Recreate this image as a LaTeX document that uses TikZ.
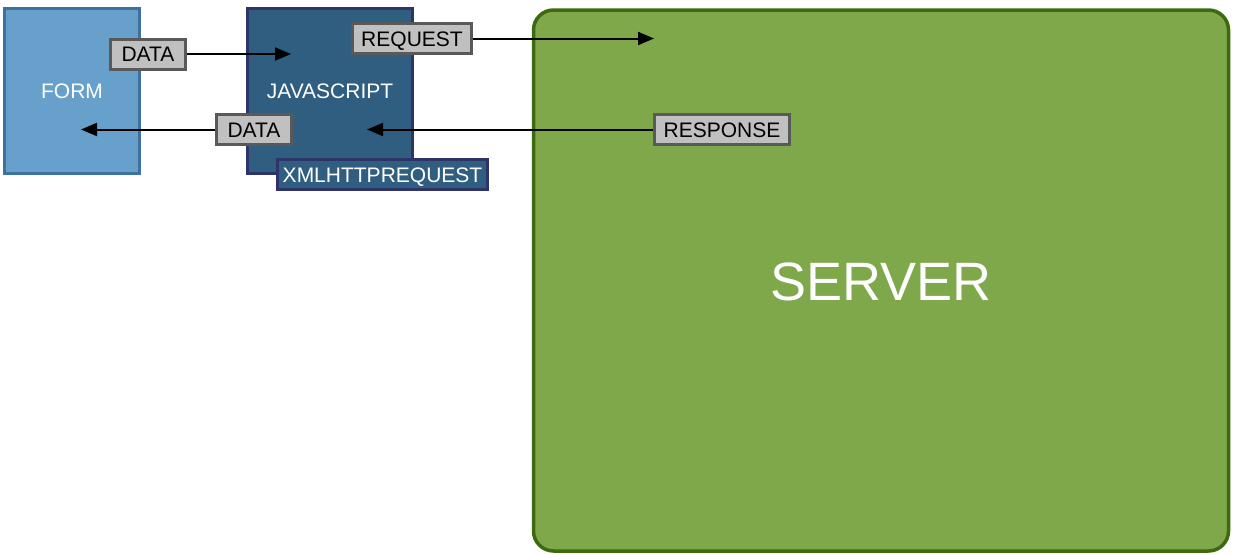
\documentclass[tikz,border=0pt]{standalone}
\usepackage{fontspec}
\setmainfont{Liberation Sans}
\usetikzlibrary{arrows.meta}
\definecolor{formfill}{HTML}{67A0CB}
\definecolor{formline}{HTML}{3D72A0}
\definecolor{jsfill}{HTML}{2F5E80}
\definecolor{jsline}{HTML}{2E3368}
\definecolor{srvfill}{HTML}{7EA84A}
\definecolor{srvline}{HTML}{3D6A0F}
\definecolor{lblfill}{HTML}{C0C0C0}
\definecolor{lblline}{HTML}{595959}
\begin{document}
\begin{tikzpicture}[x=1pt,y=-1pt,
  block/.style={draw, rectangle, inner sep=0pt, text=white, text height=15pt, text depth=0pt, font=\fontsize{21}{25}\selectfont},
  lbl/.style={draw=lblline, fill=lblfill, line width=3pt, rectangle, inner sep=0pt, minimum height=30pt, text height=15pt, text depth=0pt, text=black, font=\fontsize{21}{25}\selectfont},
  conn/.style={line width=2pt, -{Triangle[length=16pt,width=13pt]}}]
\useasboundingbox (0,0) rectangle (1236,554);
\node[block, fill=formfill, draw=formline, line width=3pt, minimum width=135pt, minimum height=165pt] (form) at (72,91) {FORM};
\node[block, fill=jsfill, draw=jsline, line width=3pt, minimum width=165pt, minimum height=165pt] (js) at (330,91) {JAVASCRIPT};
\node[block, fill=srvfill, draw=srvline, line width=3.5pt, rounded corners=20pt, minimum width=695pt, minimum height=541pt, text height=39pt, font=\fontsize{54}{60}\selectfont] (server) at (881,280.5) {SERVER};
\node[block, fill=jsfill, draw=jsline, line width=3pt, minimum width=210pt, minimum height=30pt] (xhr) at (382.5,174.5) {XMLHTTPREQUEST};
\node[lbl, minimum width=75pt] (data1) at (148,54) {DATA};
\node[lbl, minimum width=119pt] (req) at (412,38.5) {REQUEST};
\node[lbl, minimum width=75pt] (data2) at (254,129.5) {DATA};
\node[lbl, minimum width=135pt] (resp) at (722,129.5) {RESPONSE};
\coordinate (t1) at (291,54);
\coordinate (t2) at (654,38.5);
\coordinate (t3) at (81,129.5);
\coordinate (t4) at (367,129.5);
\draw[conn] (data1.east) -- (t1);
\draw[conn] (req.east) -- (t2);
\draw[conn] (data2.west) -- (t3);
\draw[conn] (resp.west) -- (t4);
\end{tikzpicture}
\end{document}
